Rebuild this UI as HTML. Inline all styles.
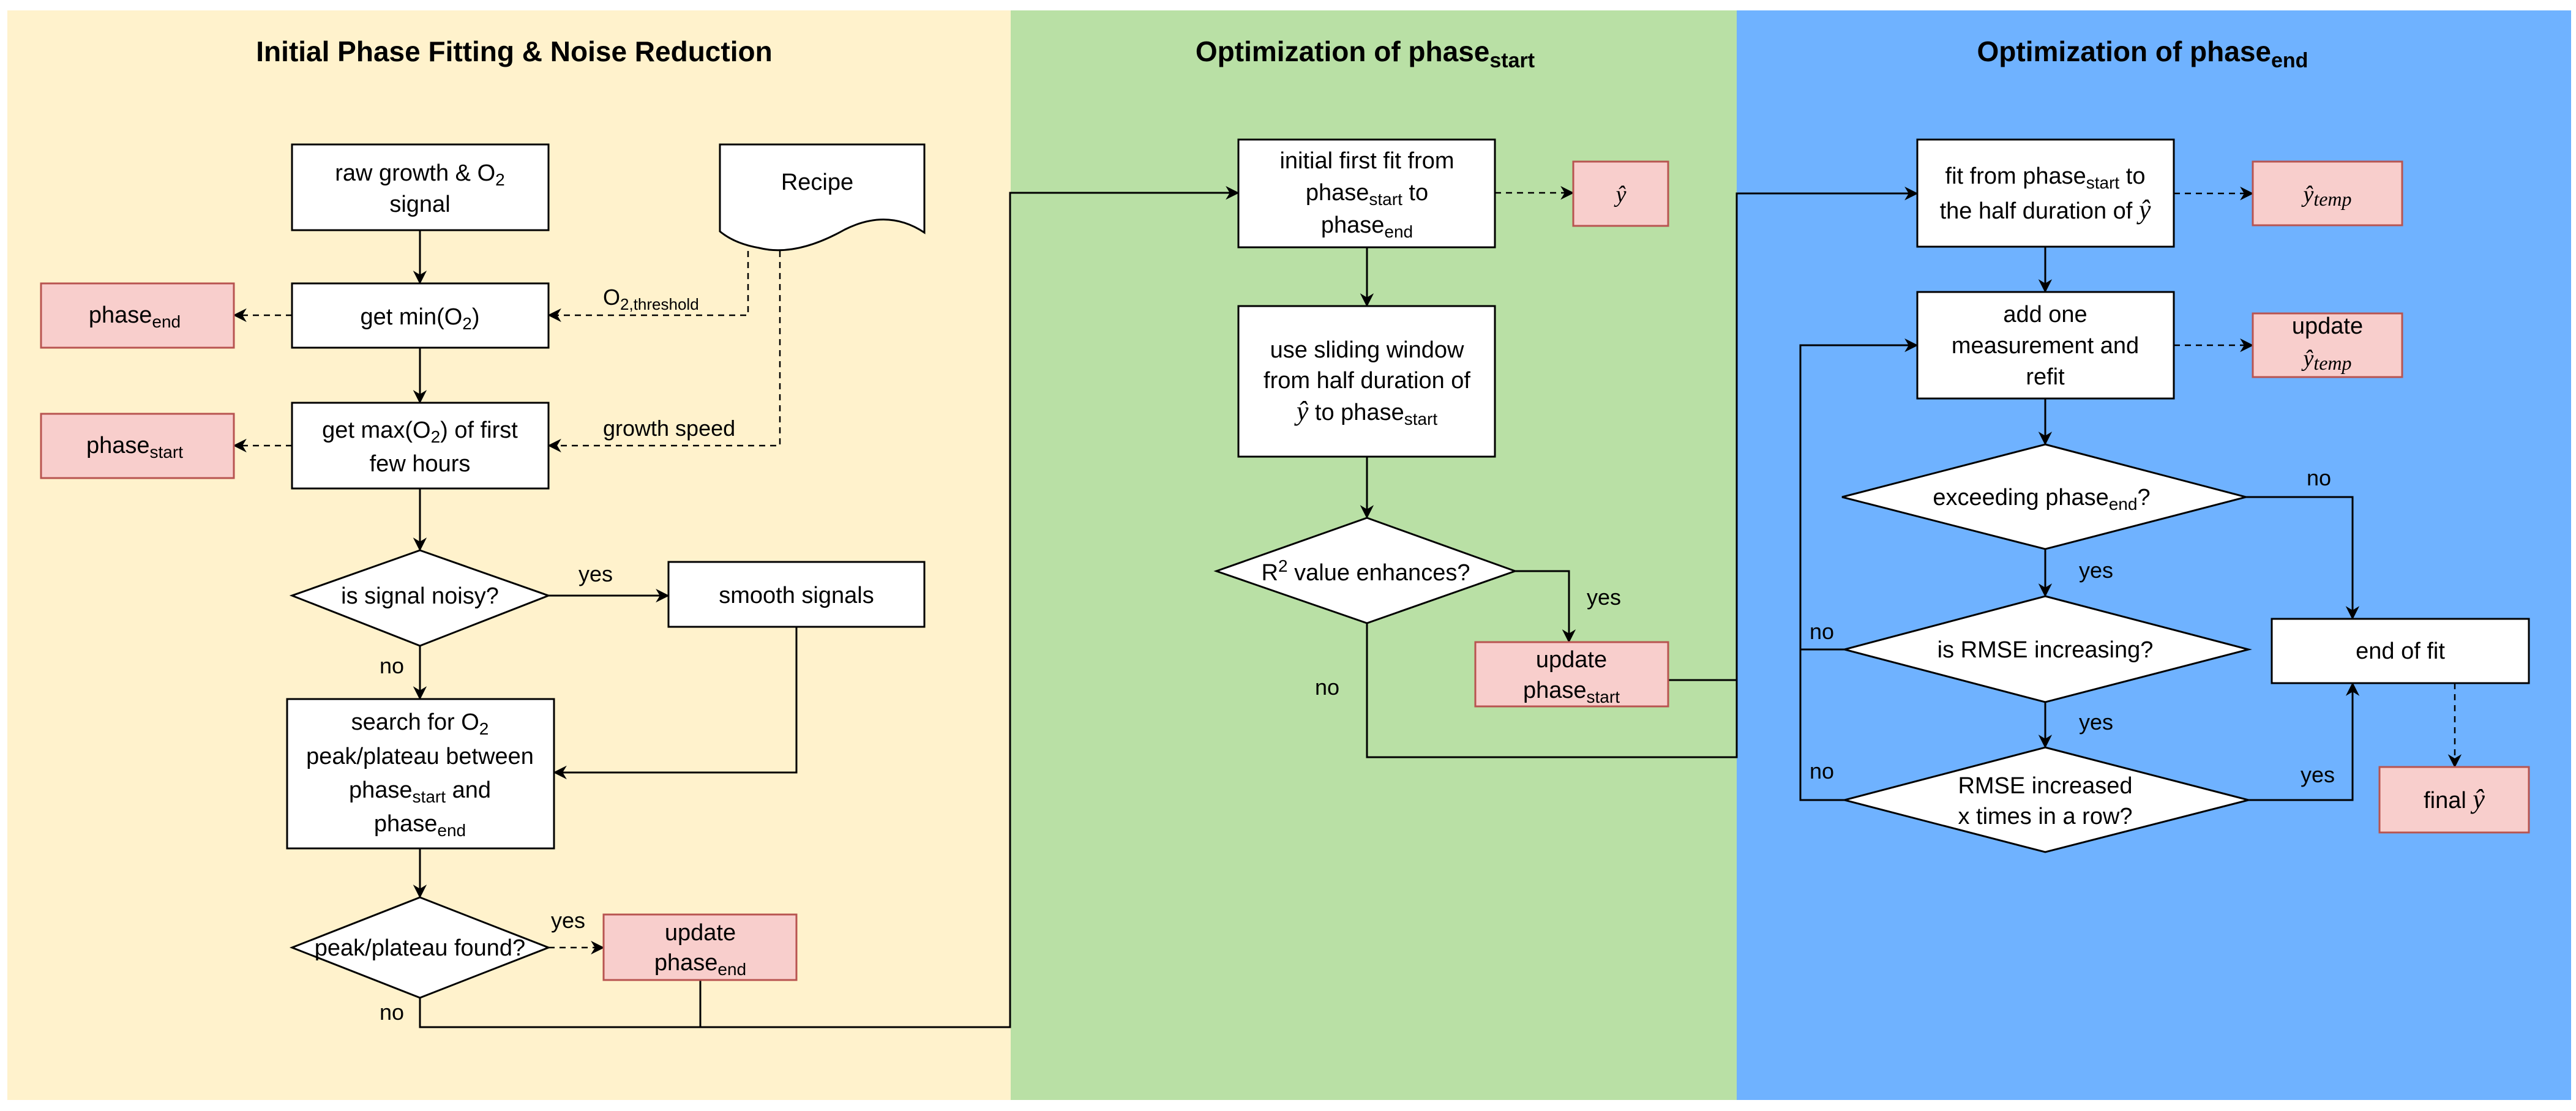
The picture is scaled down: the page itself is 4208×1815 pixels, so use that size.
<!DOCTYPE html>
<html><head><meta charset="utf-8"><style>
html,body{margin:0;padding:0;background:#fff;}
svg{display:block;}
text{font-family:"Liberation Sans",Arial,sans-serif;fill:#000;}
.t{font-size:38px;text-anchor:middle;}
.lab{font-size:36px;}
.ttl{font-size:46px;font-weight:bold;text-anchor:middle;}
.m{font-family:"Liberation Serif",serif;font-style:italic;}
</style></head><body>
<svg width="4208" height="1815" viewBox="0 0 4208 1815" xmlns="http://www.w3.org/2000/svg">
<defs>
<marker id="a" viewBox="0 0 10 10" refX="9" refY="5" markerWidth="7" markerHeight="7" markerUnits="userSpaceOnUse" orient="auto" style="overflow:visible">
<path d="M0,0 L10,5 L0,10 L3,5 Z" fill="#000" transform="scale(3.2) translate(-6.5,-3.4)"/>
</marker>
</defs>
<rect x="12" y="17" width="1639" height="1780" fill="#fff2cc"/>
<rect x="1651" y="17" width="1186" height="1780" fill="#b9e0a5"/>
<rect x="2837" y="17" width="1363" height="1780" fill="#6fb2ff"/>

<text class="ttl" x="840" y="100">Initial Phase Fitting &amp; Noise Reduction</text>
<text class="ttl" x="2230" y="100">Optimization of phase<tspan font-size="34" dy="10">start</tspan></text>
<text class="ttl" x="3500" y="100">Optimization of phase<tspan font-size="34" dy="10">end</tspan></text>

<g stroke="#000" stroke-width="3" fill="none">
<!-- panel 1 -->
<line x1="686" y1="376" x2="686" y2="463" marker-end="url(#a)"/>
<line x1="686" y1="568" x2="686" y2="658" marker-end="url(#a)"/>
<line x1="686" y1="798" x2="686" y2="899" marker-end="url(#a)"/>
<line x1="896" y1="973" x2="1092" y2="973" marker-end="url(#a)"/>
<polyline points="1301,1024 1301,1262 905,1262" marker-end="url(#a)"/>
<line x1="686" y1="1055" x2="686" y2="1142" marker-end="url(#a)"/>
<line x1="686" y1="1386" x2="686" y2="1466" marker-end="url(#a)"/>
<polyline points="686,1630 686,1678 1650,1678 1650,315 2023,315" marker-end="url(#a)"/>
<line x1="1144" y1="1601" x2="1144" y2="1678"/>
<g stroke-dasharray="10,8" stroke-width="2.5">
<polyline points="1222,410 1222,515 896,515" marker-end="url(#a)"/>
<polyline points="1274,410 1274,728 896,728" marker-end="url(#a)"/>
<line x1="477" y1="515" x2="382" y2="515" marker-end="url(#a)"/>
<line x1="477" y1="728" x2="382" y2="728" marker-end="url(#a)"/>
<line x1="896" y1="1548" x2="986" y2="1548" marker-end="url(#a)"/>
<line x1="2442" y1="315" x2="2570" y2="315" marker-end="url(#a)"/>
<line x1="3551" y1="316" x2="3680" y2="316" marker-end="url(#a)"/>
<line x1="3551" y1="564" x2="3680" y2="564" marker-end="url(#a)"/>
<line x1="4010" y1="1116" x2="4010" y2="1253" marker-end="url(#a)"/>
</g>
<!-- panel 2 -->
<line x1="2233" y1="404" x2="2233" y2="500" marker-end="url(#a)"/>
<line x1="2233" y1="746" x2="2233" y2="846" marker-end="url(#a)"/>
<polyline points="2475,933 2563,933 2563,1049" marker-end="url(#a)"/>
<polyline points="2233,1018 2233,1237 2837,1237 2837,316 3132,316" marker-end="url(#a)"/>
<line x1="2725" y1="1111" x2="2837" y2="1111"/>
<!-- panel 3 -->
<line x1="3341" y1="403" x2="3341" y2="477" marker-end="url(#a)"/>
<line x1="3341" y1="651" x2="3341" y2="726" marker-end="url(#a)"/>
<line x1="3341" y1="897" x2="3341" y2="974" marker-end="url(#a)"/>
<line x1="3341" y1="1147" x2="3341" y2="1221" marker-end="url(#a)"/>
<polyline points="3669,812 3843,812 3843,1011" marker-end="url(#a)"/>
<polyline points="3673,1307 3843,1307 3843,1116" marker-end="url(#a)"/>
<polyline points="3013,1307 2941,1307 2941,564 3132,564" marker-end="url(#a)"/>
<line x1="3013" y1="1061" x2="2941" y2="1061"/>
</g>

<g stroke="#000" stroke-width="3" fill="#fff">
<rect x="477" y="236" width="419" height="140"/>
<path d="M1176,236 H1510 V380 Q1450,340 1380,375 Q1300,420 1240,405 Q1200,398 1176,378 Z"/>
<rect x="477" y="463" width="419" height="105"/>
<rect x="477" y="658" width="419" height="140"/>
<polygon points="686,899 896,973 686,1055 477,973"/>
<rect x="1092" y="918" width="418" height="106"/>
<rect x="469" y="1142" width="436" height="244"/>
<polygon points="686,1466 896,1548 686,1630 477,1548"/>
<rect x="2023" y="228" width="419" height="176"/>
<rect x="2023" y="500" width="419" height="246"/>
<polygon points="2233,846 2475,933 2233,1018 1987,933"/>
<rect x="3132" y="228" width="419" height="175"/>
<rect x="3132" y="477" width="419" height="174"/>
<polygon points="3341,726 3669,812 3341,897 3009,812"/>
<polygon points="3341,974 3673,1061 3341,1147 3013,1061"/>
<polygon points="3341,1221 3673,1307 3341,1392 3013,1307"/>
<rect x="3711" y="1011" width="420" height="105"/>
</g>
<g stroke="#b85450" stroke-width="3" fill="#f8cecc">
<rect x="67" y="463" width="315" height="105"/>
<rect x="67" y="676" width="315" height="105"/>
<rect x="986" y="1494" width="315" height="107"/>
<rect x="2570" y="264" width="155" height="105"/>
<rect x="2410" y="1049" width="315" height="105"/>
<rect x="3680" y="264" width="244" height="104"/>
<rect x="3680" y="512" width="244" height="104"/>
<rect x="3887" y="1253" width="244" height="107"/>
</g>

<!-- panel 1 text -->
<text class="t" x="686" y="295">raw growth &amp; O<tspan font-size="28" dy="8">2</tspan></text>
<text class="t" x="686" y="346">signal</text>
<text class="t" x="1335" y="310">Recipe</text>
<text class="t" x="686" y="530">get min(O<tspan font-size="28" dy="8">2</tspan><tspan dy="-8">)</tspan></text>
<text class="t" x="686" y="715">get max(O<tspan font-size="28" dy="8">2</tspan><tspan dy="-8">) of first</tspan></text>
<text class="t" x="686" y="770">few hours</text>
<text class="t" x="220" y="527">phase<tspan font-size="28" dy="8">end</tspan></text>
<text class="t" x="220" y="740">phase<tspan font-size="28" dy="8">start</tspan></text>
<text class="lab" x="985" y="498" font-size="32">O<tspan font-size="26" dy="8">2,threshold</tspan></text>
<text class="lab" x="985" y="712" font-size="28">growth speed</text>
<text class="t" x="686" y="986">is signal noisy?</text>
<text class="lab" x="945" y="950">yes</text>
<text class="t" x="1301" y="985">smooth signals</text>
<text class="lab" x="620" y="1100">no</text>
<text class="t" x="686" y="1192">search for O<tspan font-size="28" dy="8">2</tspan></text>
<text class="t" x="686" y="1248">peak/plateau between</text>
<text class="t" x="686" y="1303">phase<tspan font-size="28" dy="8">start</tspan><tspan dy="-8"> and</tspan></text>
<text class="t" x="686" y="1358">phase<tspan font-size="28" dy="8">end</tspan></text>
<text class="t" x="686" y="1561" font-size="36">peak/plateau found?</text>
<text class="lab" x="900" y="1516">yes</text>
<text class="t" x="1144" y="1536">update</text>
<text class="t" x="1144" y="1585">phase<tspan font-size="28" dy="8">end</tspan></text>
<text class="lab" x="620" y="1666">no</text>

<!-- panel 2 text -->
<text class="t" x="2233" y="275">initial first fit from</text>
<text class="t" x="2233" y="327">phase<tspan font-size="28" dy="8">start</tspan><tspan dy="-8"> to</tspan></text>
<text class="t" x="2233" y="380">phase<tspan font-size="28" dy="8">end</tspan></text>
<text class="t m" x="2648" y="330" font-size="44">ŷ</text>
<text class="t" x="2233" y="584">use sliding window</text>
<text class="t" x="2233" y="634">from half duration of</text>
<text class="t" x="2233" y="686"><tspan class="m" font-size="44">ŷ</tspan> to phase<tspan font-size="28" dy="8">start</tspan></text>
<text class="t" x="2231" y="948">R<tspan font-size="28" dy="-14">2</tspan><tspan dy="14"> value enhances?</tspan></text>
<text class="lab" x="2592" y="988">yes</text>
<text class="lab" x="2148" y="1135">no</text>
<text class="t" x="2567" y="1090">update</text>
<text class="t" x="2567" y="1140">phase<tspan font-size="28" dy="8">start</tspan></text>

<!-- panel 3 text -->
<text class="t" x="3341" y="300">fit from phase<tspan font-size="28" dy="8">start</tspan><tspan dy="-8"> to</tspan></text>
<text class="t" x="3341" y="357">the half duration of <tspan class="m" font-size="44">ŷ</tspan></text>
<text class="t m" x="3802" y="330" font-size="44">ŷ<tspan font-size="32" dy="6">temp</tspan></text>
<text class="t" x="3341" y="526">add one</text>
<text class="t" x="3341" y="577">measurement and</text>
<text class="t" x="3341" y="628">refit</text>
<text class="t" x="3802" y="545">update</text>
<text class="t m" x="3802" y="598" font-size="44">ŷ<tspan font-size="32" dy="6">temp</tspan></text>
<text class="t" x="3335" y="825">exceeding phase<tspan font-size="28" dy="8">end</tspan><tspan dy="-8">?</tspan></text>
<text class="lab" x="3768" y="793">no</text>
<text class="lab" x="3396" y="944">yes</text>
<text class="t" x="3341" y="1074">is RMSE increasing?</text>
<text class="lab" x="2956" y="1044">no</text>
<text class="lab" x="3396" y="1192">yes</text>
<text class="t" x="3341" y="1296">RMSE increased</text>
<text class="t" x="3341" y="1346">x times in a row?</text>
<text class="lab" x="2956" y="1272">no</text>
<text class="lab" x="3758" y="1278">yes</text>
<text class="t" x="3921" y="1076">end of fit</text>
<text class="t" x="4009" y="1320">final <tspan class="m" font-size="44">ŷ</tspan></text>
</svg>
</body></html>
